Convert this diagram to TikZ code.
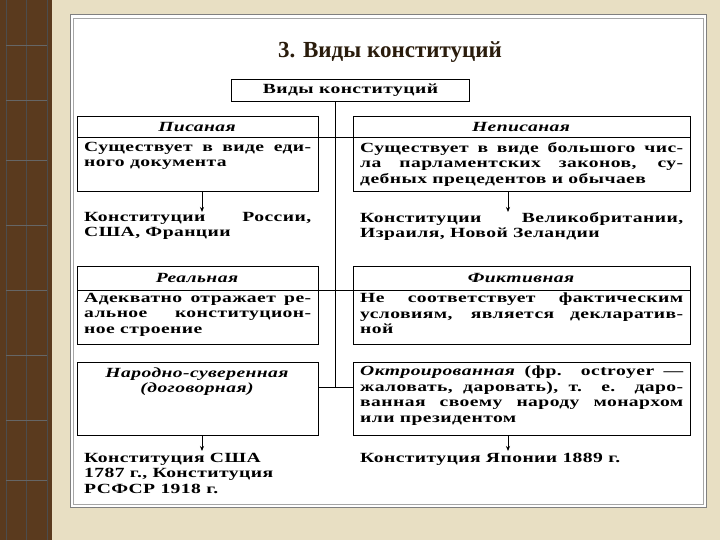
\documentclass[tikz,border=0pt]{standalone}
\usepackage{fontspec}
\setmainfont{Liberation Serif}
\usetikzlibrary{arrows.meta}
\definecolor{bg}{HTML}{E8DFC3}
\definecolor{strip}{HTML}{5A3A1E}
\definecolor{ttl}{HTML}{2A1C0C}
\newcommand\wide{\addfontfeature{FakeStretch=1.4,LetterSpace=3}}
\begin{document}
\begin{tikzpicture}[x=1pt,y=-1pt,
  box/.style={draw,line width=1pt,anchor=north west,inner sep=0pt},
  hd/.style={font=\bfseries\itshape\fontsize{14}{15}\selectfont\wide,anchor=center},
  body/.style={font=\bfseries\fontsize{14}{15.5}\selectfont\wide,anchor=north west,align=justify,inner sep=0pt},
  arr/.style={-{Stealth[length=5pt,width=4pt]},line width=0.8pt},
  ln/.style={line width=1pt}]
\useasboundingbox (0,0) rectangle (720,540);
\fill[bg] (0,0) rectangle (720,540);
\fill[strip] (0,0) rectangle (52,540);
\foreach \x in {6,26,47}{\draw[black!70,line width=0.6pt] (\x,0) -- (\x,540);}
\foreach \y in {45,100,160,225,290,355,420,480}{\draw[black!60,line width=0.5pt] (6,\y) -- (47,\y);}
\fill[white] (70,15) rectangle (706,507);
\draw[gray,line width=1pt] (70,15) rectangle (706,507);
\draw[gray!70,line width=0.6pt] (73,18) rectangle (703,504);
\node[font=\bfseries\fontsize{23}{26}\selectfont,text=ttl] (title) at (390,52) {3. Виды конституций};
% top
\node[box,minimum width=238pt,minimum height=22pt,font=\bfseries\fontsize{14}{15}\selectfont\wide,anchor=north west] (top) at (231,79) {Виды конституций};
% row 1
\node[box,minimum width=241pt,minimum height=75pt] (pis) at (77,116) {};
\node[box,minimum width=337pt,minimum height=75pt] (nep) at (353,116) {};
\draw[ln] (77,138) -- (690,138);
\node[hd] (pish) at (197,127) {Писаная};
\node[hd] (neph) at (521,127) {Неписаная};
\node[body,text width=227pt] (pist) at (84,142) {Существует в виде еди-\linebreak ного документа};
\node[body,text width=323pt] (nept) at (360,142) {Существует в виде большого чис-\linebreak ла парламентских законов, су-\linebreak дебных прецедентов и обычаев};
\node[body,text width=227pt] (pisx) at (84,212) {Конституции России,\linebreak США, Франции};
\node[body,text width=323pt] (nepx) at (360,212) {Конституции Великобритании,\linebreak Израиля, Новой Зеландии};
\draw[arr] (pis.south -| 202,0) -- (pisx.north -| 202,0);
\draw[arr] (nep.south -| 508,0) -- (nepx.north -| 508,0);
% row 2
\node[box,minimum width=241pt,minimum height=78pt] (real) at (77,266) {};
\node[box,minimum width=337pt,minimum height=78pt] (fikt) at (353,266) {};
\draw[ln] (77,290) -- (690,290);
\node[hd] (realh) at (197,278) {Реальная};
\node[hd] (fikth) at (521,278) {Фиктивная};
\node[body,text width=227pt] (realt) at (84,293) {Адекватно отражает ре-\linebreak альное конституцион-\linebreak ное строение};
\node[body,text width=323pt] (fiktt) at (360,293) {Не соответствует фактическим\linebreak условиям, является декларатив-\linebreak ной};
% row 3
\node[box,minimum width=241pt,minimum height=73pt] (nar) at (77,362) {};
\node[box,minimum width=337pt,minimum height=73pt] (okt) at (353,362) {};
\node[hd,align=center] (narh) at (197,382) {Народно-суверенная\\(договорная)};
\node[body,text width=323pt] (oktt) at (360,366) {\textit{Октроированная} (фр. octroyer ---\linebreak жаловать, даровать), т. е. даро-\linebreak ванная своему народу монархом\linebreak или президентом};
\node[body,text width=227pt] (narx) at (84,453) {Конституция США\\1787 г., Конституция\\РСФСР 1918 г.};
\node[body,text width=323pt] (oktx) at (360,453) {Конституция Японии 1889 г.};
\draw[arr] (nar.south -| 202,0) -- ([yshift=2pt]narx.north -| 202,0);
\draw[arr] (okt.south -| 508,0) -- ([yshift=2pt]oktx.north -| 508,0);
% connectors
\draw[ln] (top.south -| 335,0) -- (335,387);
\draw[ln] (nar.east |- 0,387) -- (okt.west |- 0,387);
\end{tikzpicture}
\end{document}
